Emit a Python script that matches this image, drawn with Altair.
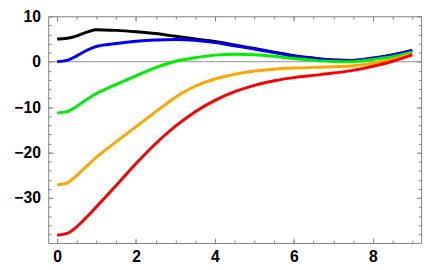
import altair as alt
import pandas as pd

# ---- data ----
series_names = ["black", "blue", "green", "orange", "red"]
series_colors = ["#000000", "#0000ff", "#00ee00", "#ffa500", "#ff0000"]

t_black = [0, 0.25, 0.5, 0.75, 0.97, 1.5, 2, 2.5, 3, 3.5, 4, 4.5, 5, 5.5, 6, 6.5, 7, 7.5, 8, 8.5, 9]
v_black = [5.0, 5.15, 5.7, 6.5, 7.05, 6.9, 6.6, 6.2, 5.6, 5.0, 4.45, 3.7, 2.9, 2.1, 1.35, 0.8, 0.4, 0.3, 0.7, 1.5, 2.5]

t_blue = [0, 0.25, 0.5, 0.75, 0.97, 1.5, 2, 2.5, 3, 3.5, 4, 4.5, 5, 5.5, 6, 6.5, 7, 7.5, 8, 8.5, 9]
v_blue = [0.0, 0.3, 1.3, 2.5, 3.3, 4.0, 4.5, 4.8, 4.9, 4.7, 4.2, 3.5, 2.8, 2.0, 1.2, 0.7, 0.35, 0.3, 0.8, 1.5, 2.5]

t_green = [0, 0.25, 0.5, 0.75, 1, 1.5, 2, 2.5, 3, 3.5, 4, 4.5, 5, 5.5, 6, 6.5, 7, 7.5, 8, 8.5, 9]
v_green = [-11.3, -11.0, -9.8, -8.3, -7.0, -5.0, -3.1, -1.3, 0.1, 0.9, 1.45, 1.65, 1.55, 1.2, 0.7, 0.3, 0.05, 0.0, 0.5, 1.1, 2.1]

t_orange = [0, 0.25, 0.5, 0.75, 1, 1.5, 2, 2.5, 3, 3.25, 3.5, 3.75, 4, 4.5, 5, 5.5, 6, 6.5, 7, 7.5, 8, 8.5, 9]
v_orange = [-27.1, -26.7, -25.0, -23.0, -21.0, -17.6, -14.3, -11.0, -7.8, -6.5, -5.4, -4.5, -3.8, -2.75, -2.05, -1.65, -1.4, -1.25, -1.1, -0.9, -0.3, 0.5, 1.8]

t_red = [0, 0.25, 0.5, 0.75, 1, 1.5, 2, 2.5, 3, 3.5, 4, 4.5, 5, 5.5, 6, 6.5, 7, 7.5, 8, 8.5, 9]
v_red = [-38.2, -37.8, -36.3, -34.2, -31.9, -27.2, -22.4, -18.0, -14.2, -11.0, -8.5, -6.6, -5.2, -4.2, -3.5, -3.0, -2.5, -1.9, -1.0, 0.1, 1.5]

x_major = [0, 2, 4, 6, 8]
x_minor = [i * 0.5 for i in range(19)]
y_major = [10, 0, -10, -20, -30]
y_minor = list(range(-38, 11, 2))

x_domain = [-0.225, 9.225]
y_domain = [-39.9, 10]

rows = []
for name, ts, vs in zip(series_names,
                        [t_black, t_blue, t_green, t_orange, t_red],
                        [v_black, v_blue, v_green, v_orange, v_red]):
    for t, v in zip(ts, vs):
        rows.append({"series": name, "t": t, "v": v})
df = pd.DataFrame(rows)

xs = alt.Scale(domain=x_domain, nice=False, zero=False)
ys = alt.Scale(domain=y_domain, nice=False, zero=False)

FONT = "Liberation Sans"
TICK = "#888888"
LABEL_EXPR = "datum.value < 0 ? '\u2212' + format(-datum.value, 'd') : format(datum.value, 'd')"


def tick_axes(xorient, yorient, xvals, yvals, size):
    return dict(
        x=alt.X("t:Q", scale=xs, title=None,
                axis=alt.Axis(orient=xorient, values=xvals, labels=False, domain=False,
                              grid=False, ticks=True, tickSize=size, offset=-size,
                              tickColor=TICK, tickWidth=1, tickOpacity=1)),
        y=alt.Y("v:Q", scale=ys, title=None,
                axis=alt.Axis(orient=yorient, values=yvals, labels=False, domain=False,
                              grid=False, ticks=True, tickSize=size, offset=-size,
                              tickColor=TICK, tickWidth=1, tickOpacity=1)),
    )


base = alt.Chart(df)

zero = alt.Chart(pd.DataFrame({"y0": [0]})).mark_rule(color="#909090", strokeWidth=1).encode(
    y=alt.Y("y0:Q", scale=ys, axis=None)
)

lines = base.mark_line(strokeWidth=3, interpolate="monotone").encode(
    x=alt.X("t:Q", scale=xs, title=None,
            axis=alt.Axis(orient="bottom", values=x_major, ticks=False, tickSize=0, domain=False,
                          grid=False, labelFont=FONT, labelFontSize=16, labelFontWeight="bold",
                          labelColor="black", labelPadding=6, labelFlush=False,
                          labelExpr=LABEL_EXPR)),
    y=alt.Y("v:Q", scale=ys, title=None,
            axis=alt.Axis(orient="left", values=y_major, ticks=False, tickSize=0, domain=False,
                          grid=False, labelFont=FONT, labelFontSize=16, labelFontWeight="bold",
                          labelColor="black", labelPadding=8, labelFlush=False,
                          labelExpr=LABEL_EXPR)),
    color=alt.Color("series:N", scale=alt.Scale(domain=series_names, range=series_colors),
                    legend=None, sort=series_names),
    detail="series:N",
)

ghost = base.mark_point(opacity=0)
l_major_bl = ghost.encode(**tick_axes("bottom", "left", x_major, y_major, 5))
l_minor_bl = ghost.encode(**tick_axes("bottom", "left", x_minor, y_minor, 3))
l_major_tr = ghost.encode(**tick_axes("top", "right", x_major, y_major, 5))
l_minor_tr = ghost.encode(**tick_axes("top", "right", x_minor, y_minor, 3))

chart = alt.layer(
    zero, lines, l_major_bl, l_minor_bl, l_major_tr, l_minor_tr
).resolve_axis(
    x="independent", y="independent"
).properties(
    width=380, height=231,
    padding={"left": 41, "top": 6, "right": 7, "bottom": 20},
    autosize=alt.AutoSizeParams(type="none"),
    background="white",
).configure_view(
    stroke="#808080", strokeWidth=1
)

chart.save("out.html", embed_options={"renderer": "svg", "actions": False})
